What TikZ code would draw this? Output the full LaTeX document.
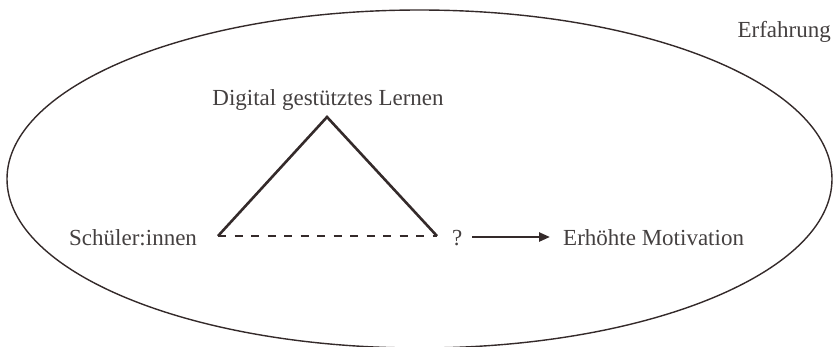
\documentclass[tikz,border=0pt]{standalone}
\usepackage{fontspec}
\setmainfont{Liberation Serif}
\usetikzlibrary{arrows.meta}
\definecolor{ink}{RGB}{52,42,42}
\definecolor{txt}{RGB}{68,64,64}
\begin{document}
\begin{tikzpicture}[x=1pt,y=-1pt,
  lbl/.style={text=txt,font=\fontsize{23}{27}\selectfont,inner sep=0pt},
  thick line/.style={draw=ink,line width=2.6pt},
  dash line/.style={draw=ink,line width=1.8pt,dash pattern=on 8pt off 8.5pt}]
\useasboundingbox (0,0) rectangle (833,346);
\draw[draw=ink,line width=1.4pt] (419.5,179) ellipse [x radius=412.5, y radius=169];
\node[lbl,anchor=base] (dig) at (328,105) {Digital gestütztes Lernen};
\node[lbl,anchor=base west] (sch) at (69,245) {Schüler:innen};
\node[lbl,anchor=base west] (q) at (452,245) {?};
\node[lbl,anchor=base west] (mot) at (563,245) {Erhöhte Motivation};
\node[lbl,anchor=base east] (erf) at (831,37) {Erfahrung};
\coordinate (top) at (327,117);
\coordinate (bl) at (218,236);
\coordinate (br) at (437,236);
\coordinate (a0) at (472,237);
\coordinate (a1) at (550,237);
\draw[thick line,line join=miter] (bl) -- (top) -- (br);
\draw[dash line] (bl) -- (br);
\draw[draw=ink,line width=2.4pt,-{Triangle[length=11pt,width=9pt]}] (a0) -- (a1);
\end{tikzpicture}
\end{document}
